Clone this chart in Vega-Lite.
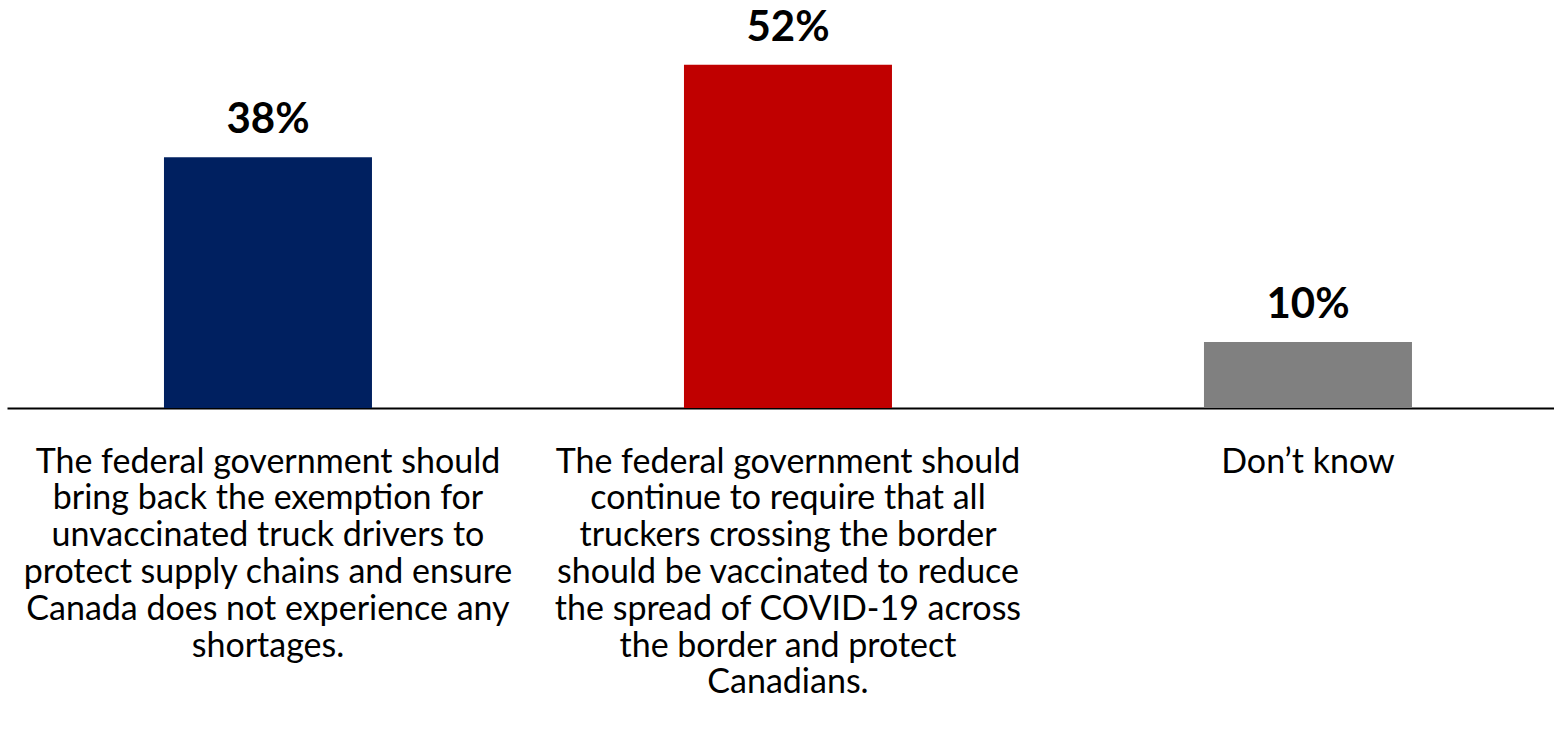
{
  "$schema": "https://vega.github.io/schema/vega-lite/v6.json",
  "autosize": {"type": "none"},
  "width": 1547,
  "height": 408,
  "padding": {"left": 7, "top": 0, "right": 0, "bottom": 338},
  "background": "white",
  "config": {"view": {"stroke": null}, "font": "Lato"},
  "data": {"values": [
    {"cat": "The federal government should|bring back the exemption for|unvaccinated truck drivers to|protect supply chains and ensure|Canada does not experience any|shortages.", "pct": 38, "label": "38%", "color": "#002060"},
    {"cat": "The federal government should|continue to require that all|truckers crossing the border|should be vaccinated to reduce|the spread of COVID-19 across|the border and protect|Canadians.", "pct": 52, "label": "52%", "color": "#C00000"},
    {"cat": "Don’t know", "pct": 10, "label": "10%", "color": "#808080"}
  ]},
  "encoding": {
    "x": {"field": "cat", "type": "nominal", "sort": null, "title": null,
      "scale": {"paddingInner": 0.6, "paddingOuter": 0.2875, "align": 0.525},
      "axis": {"labelAngle": 0, "ticks": false, "domainColor": "#000000", "domainWidth": 2,
        "labelExpr": "split(datum.label, '|')", "labelFont": "Lato", "labelFontSize": 34,
        "labelColor": "#000000", "labelLineHeight": 36.8, "labelBaseline": "alphabetic",
        "labelPadding": 64, "labelLimit": 0, "labelOverlap": false, "labelAlign": "center"}},
    "y": {"field": "pct", "type": "quantitative", "scale": {"domain": [0, 61.8], "nice": false, "zero": true}, "axis": null}
  },
  "layer": [
    {"mark": {"type": "bar"}, "encoding": {"color": {"field": "color", "type": "nominal", "scale": null}}},
    {"mark": {"type": "text", "baseline": "alphabetic", "dy": -24, "fontSize": 42, "fontWeight": "bold", "font": "Lato", "color": "#000000"},
     "encoding": {"text": {"field": "label"}}}
  ]
}
